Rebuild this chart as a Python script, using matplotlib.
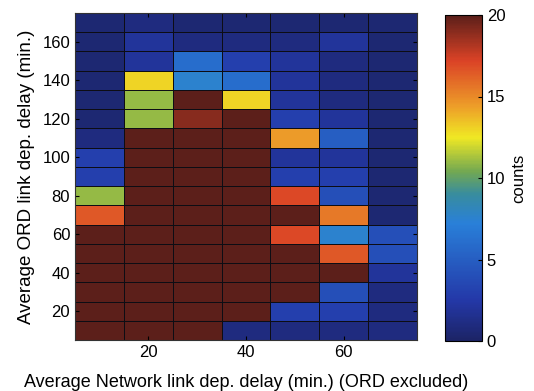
import numpy as np
import matplotlib
matplotlib.use("Agg")
import matplotlib.pyplot as plt
from matplotlib.colors import LinearSegmentedColormap

# x bin centers (Average Network link dep. delay, min.)
x_centers = [10, 20, 30, 40, 50, 60, 70]
# y bin centers (Average ORD link dep. delay, min.)
y_centers = [10, 20, 30, 40, 50, 60, 70, 80, 90, 100, 110, 120, 130, 140, 150, 160, 170]

# counts per row (bottom y=10 to top y=170), columns x=10..70
row_010 = [20, 20, 20, 1, 1, 1, 1]
row_020 = [20, 20, 20, 20, 3, 3, 1]
row_030 = [20, 20, 20, 20, 20, 4, 1]
row_040 = [20, 20, 20, 20, 20, 20, 2]
row_050 = [20, 20, 20, 20, 20, 16.5, 4]
row_060 = [20, 20, 20, 20, 17, 7.5, 4]
row_070 = [16.5, 20, 20, 20, 20, 15.5, 0.5]
row_080 = [11, 20, 20, 20, 17, 4, 0.5]
row_090 = [3, 20, 20, 20, 3, 3, 0.5]
row_100 = [3, 20, 20, 20, 2, 2, 0.5]
row_110 = [1, 20, 20, 20, 14.5, 5, 0.5]
row_120 = [0.5, 11, 19, 20, 3, 2, 0.5]
row_130 = [0.5, 11, 20, 13, 2, 1, 0.5]
row_140 = [0.5, 13, 7.5, 6, 2, 1, 0.5]
row_150 = [0.5, 2, 6, 3, 2, 1, 0.5]
row_160 = [0.5, 2, 1, 1, 1, 2, 0.5]
row_170 = [0.5, 1, 0.5, 0.5, 0.5, 0.5, 0.5]

counts = np.array([row_010, row_020, row_030, row_040, row_050, row_060, row_070,
                   row_080, row_090, row_100, row_110, row_120, row_130, row_140,
                   row_150, row_160, row_170])

x_ticks = [20, 40, 60]
y_ticks = [20, 40, 60, 80, 100, 120, 140, 160]
cbar_ticks = [0, 5, 10, 15, 20]

# muted jet as seen in the scanned figure
cmap = LinearSegmentedColormap.from_list("mjet", [
    (0.0, (0.11, 0.14, 0.40)),
    (0.125, (0.14, 0.22, 0.66)),
    (0.36, (0.16, 0.50, 0.85)),
    (0.45, (0.22, 0.55, 0.62)),
    (0.52, (0.45, 0.66, 0.32)),
    (0.625, (0.94, 0.91, 0.14)),
    (0.72, (0.93, 0.62, 0.16)),
    (0.86, (0.86, 0.26, 0.15)),
    (1.0, (0.36, 0.12, 0.10)),
])

plt.rcParams['font.family'] = ['Liberation Sans', 'DejaVu Sans']

fig = plt.figure(figsize=(5.34, 3.91), dpi=100)
ax = fig.add_axes([75/534, 51/391, 342/534, 327/391])

xc = np.array(x_centers, dtype=float)
yc = np.array(y_centers, dtype=float)
xe = np.concatenate([xc - 5, [xc[-1] + 5]])
ye = np.concatenate([yc - 5, [yc[-1] + 5]])
mesh = ax.pcolormesh(xe, ye, counts, cmap=cmap, vmin=0, vmax=20,
                     edgecolor=(0.05, 0.05, 0.08), linewidth=0.6)
ax.set_xlim(xe[0], xe[-1])
ax.set_ylim(ye[0], ye[-1])
ax.set_xticks(x_ticks)
ax.set_yticks(y_ticks)
ax.tick_params(direction='in', labelsize=12, length=3, top=True, right=True)
for s in ax.spines.values():
    s.set_linewidth(0.8)
    s.set_color('#333333')

ax.set_ylabel("Average ORD link dep. delay (min.)", fontsize=13.5, labelpad=5)
ax.set_xlabel("Average Network link dep. delay (min.) (ORD excluded)",
              fontsize=13, labelpad=10)

cax = fig.add_axes([445/534, 50/391, 37/534, 326/391])
cb = fig.colorbar(mesh, cax=cax, ticks=cbar_ticks)
cb.ax.tick_params(direction='in', labelsize=12, length=3)
cb.outline.set_linewidth(0.8)
cb.set_label("counts", fontsize=12, labelpad=4)

fig.savefig("out.png", dpi=100)
